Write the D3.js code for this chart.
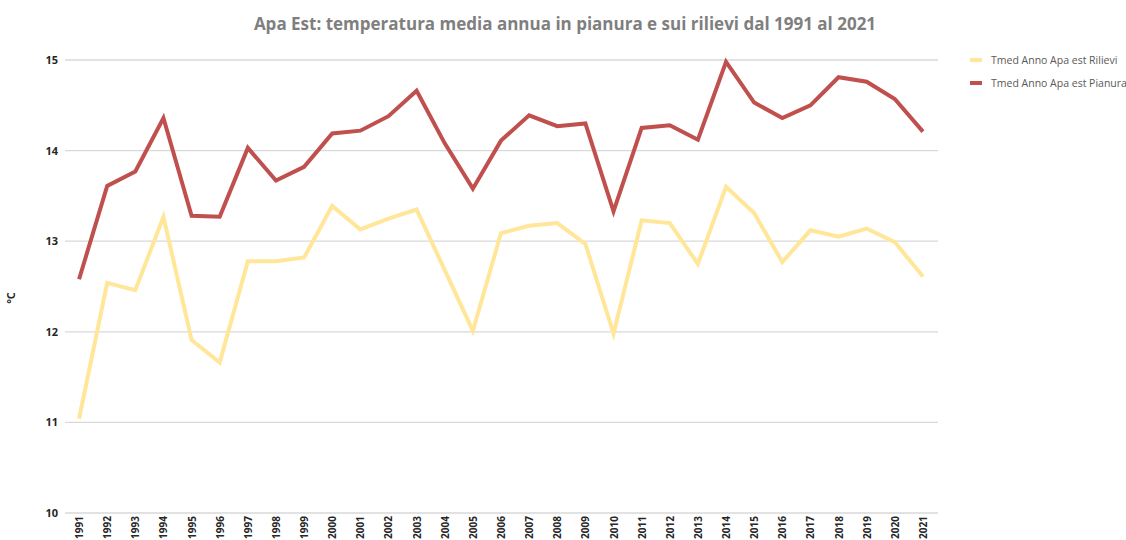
<!DOCTYPE html>
<html>
<head>
<meta charset="utf-8">
<script src="https://cdn.jsdelivr.net/npm/d3@7"></script>
<style>
  body { margin: 0; background: #fff; }
  svg { font-family: "Open Sans", "Liberation Sans", sans-serif; }
</style>
</head>
<body>
<svg width="1126" height="540"></svg>
<script>
const years = d3.range(1991, 2022).map(String);
const rilievi = [11.04, 12.54, 12.46, 13.27, 11.91, 11.66, 12.78, 12.78, 12.82, 13.39,
  13.13, 13.25, 13.35, 12.68, 12.01, 13.09, 13.17, 13.20, 12.97, 11.98,
  13.23, 13.20, 12.75, 13.60, 13.31, 12.77, 13.12, 13.05, 13.14, 12.99, 12.61];
const pianura = [12.58, 13.61, 13.77, 14.36, 13.28, 13.27, 14.03, 13.67, 13.82, 14.19,
  14.22, 14.38, 14.66, 14.08, 13.58, 14.11, 14.39, 14.27, 14.30, 13.33,
  14.25, 14.28, 14.12, 14.98, 14.53, 14.36, 14.50, 14.81, 14.76, 14.57, 14.21];
const yTicks = [10, 11, 12, 13, 14, 15];

const series = [
  {name: "Tmed Anno Apa est Rilievi", values: rilievi, color: "#ffe699"},
  {name: "Tmed Anno Apa est Pianura", values: pianura, color: "#c0504d"}
];

let svg = d3.select("svg");

let x = d3.scalePoint().domain(years).range([65, 937]).padding(0.5);
let y = d3.scaleLinear().domain([10, 15]).range([513, 60]);

// gridlines
svg.append("g")
  .selectAll("line")
  .data(yTicks)
  .enter().append("line")
    .attr("x1", 65).attr("x2", 938)
    .attr("y1", d => y(d)).attr("y2", d => y(d))
    .attr("stroke", "#d9d9d9")
    .attr("stroke-width", 1.3);

// y axis labels
let yAxis = svg.append("g")
  .attr("transform", "translate(58,0)")
  .call(d3.axisLeft(y).tickValues(yTicks).tickFormat(d3.format("d")).tickSize(0).tickPadding(0));
yAxis.select(".domain").remove();
yAxis.selectAll("text")
  .attr("font-family", "'Open Sans', sans-serif")
  .attr("font-size", 11)
  .attr("font-weight", "bold")
  .attr("fill", "#262626");

// x axis labels, rotated
let xAxis = svg.append("g")
  .attr("transform", "translate(0,516)")
  .call(d3.axisBottom(x).tickSize(0).tickPadding(0));
xAxis.select(".domain").remove();
xAxis.selectAll("text")
  .attr("font-family", "'Open Sans', sans-serif")
  .attr("font-size", 10)
  .attr("font-weight", "bold")
  .attr("fill", "#262626")
  .attr("text-anchor", "end")
  .attr("dy", "0.35em")
  .attr("transform", "rotate(-90)");

// y axis title
svg.append("text")
  .attr("transform", "translate(15,298) rotate(-90)")
  .attr("text-anchor", "middle")
  .attr("font-size", 11)
  .attr("font-weight", "bold")
  .attr("fill", "#262626")
  .text("°C");

// lines
let line = d3.line()
  .x((d, i) => x(years[i]))
  .y(d => y(d));

svg.append("g")
  .selectAll("path")
  .data(series)
  .enter().append("path")
    .attr("d", d => line(d.values))
    .attr("fill", "none")
    .attr("stroke", d => d.color)
    .attr("stroke-width", 4)
    .attr("stroke-linejoin", "miter");

// title
svg.append("text")
  .attr("x", 565)
  .attr("y", 30)
  .attr("text-anchor", "middle")
  .attr("font-size", 17)
  .attr("font-weight", "bold")
  .attr("fill", "#7f7f7f")
  .text("Apa Est: temperatura media annua in pianura e sui rilievi dal 1991 al 2021");

// legend
let legend = svg.append("g")
  .selectAll("g")
  .data(series)
  .enter().append("g")
    .attr("transform", (d, i) => `translate(970, ${60 + i * 23})`);

legend.append("line")
  .attr("x1", 0).attr("x2", 12)
  .attr("stroke", d => d.color)
  .attr("stroke-width", 4);

legend.append("text")
  .attr("x", 21)
  .attr("dy", "0.35em")
  .attr("font-size", 10.5)
  .attr("fill", "#595959")
  .text(d => d.name);
</script>
</body>
</html>
